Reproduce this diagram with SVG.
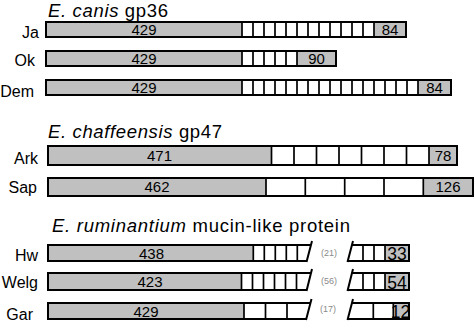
<svg xmlns="http://www.w3.org/2000/svg" width="475" height="323" viewBox="0 0 475 323">
<style>
text{font-family:"Liberation Sans",Arial,sans-serif;fill:#000}
.t{font-size:18.5px}
.i{font-style:italic}
.lb{font-size:16px;text-anchor:end}
.n{font-size:15px;text-anchor:middle}
.nb{font-size:17.5px;text-anchor:middle}
.sm{font-size:9px;text-anchor:middle;fill:#8a8a8a}
.g{fill:#c0c0c0;stroke:none}
.d{fill:none;stroke:#000;stroke-width:1.7}
.o{fill:none;stroke:#000;stroke-width:2}
.s{fill:none;stroke:#000;stroke-width:2}
</style>
<rect width="475" height="323" fill="#fff"/>
<g id="titles">
<text class="t" x="48" y="17" textLength="120"><tspan class="i">E. canis</tspan> gp36</text>
<text class="t" x="48" y="138" textLength="174"><tspan class="i">E. chaffeensis</tspan> gp47</text>
<text class="t" x="52" y="232" textLength="298"><tspan class="i">E. ruminantium</tspan> mucin-like protein</text>
</g>
<g id="ja">
<rect class="g" x="46" y="22" width="196" height="15"/>
<rect class="g" x="374" y="22" width="32" height="15"/>
<path class="d" d="M242,22v15M253,22v15M264,22v15M275,22v15M286,22v15M297,22v15M308,22v15M319,22v15M330,22v15M341,22v15M352,22v15M363,22v15M374,22v15"/>
<rect class="o" x="46" y="22" width="360" height="15"/>
<text class="lb" x="39" y="38">Ja</text>
<text class="n" x="144" y="35">429</text>
<text class="n" x="390" y="35">84</text>
</g>
<g id="ok">
<rect class="g" x="46" y="51" width="196" height="15"/>
<rect class="g" x="297" y="51" width="39" height="15"/>
<path class="d" d="M242,51v15M253,51v15M264,51v15M275,51v15M286,51v15M297,51v15"/>
<rect class="o" x="46" y="51" width="290" height="15"/>
<text class="lb" x="35" y="66">Ok</text>
<text class="n" x="144" y="64">429</text>
<text class="n" x="316.5" y="64">90</text>
</g>
<g id="dem">
<rect class="g" x="46" y="80" width="196" height="15"/>
<rect class="g" x="418" y="80" width="33" height="15"/>
<path class="d" d="M242,80v15M253,80v15M264,80v15M275,80v15M286,80v15M297,80v15M308,80v15M319,80v15M330,80v15M341,80v15M352,80v15M363,80v15M374,80v15M385,80v15M396,80v15M407,80v15M418,80v15"/>
<rect class="o" x="46" y="80" width="405" height="15"/>
<text class="lb" x="34" y="97">Dem</text>
<text class="n" x="144" y="93">429</text>
<text class="n" x="434.5" y="93">84</text>
</g>
<g id="ark">
<rect class="g" x="48" y="146" width="223.5" height="19"/>
<rect class="g" x="429" y="146" width="28" height="19"/>
<path class="d" d="M271.5,146v19M294,146v19M316.5,146v19M339,146v19M361.5,146v19M384,146v19M406.5,146v19M429,146v19"/>
<rect class="o" x="48" y="146" width="409" height="19"/>
<text class="lb" x="38" y="164">Ark</text>
<text class="n" x="159.5" y="161">471</text>
<text class="n" x="443" y="161">78</text>
</g>
<g id="sap">
<rect class="g" x="48" y="178" width="218" height="18"/>
<rect class="g" x="423.3" y="178" width="49.7" height="18"/>
<path class="d" d="M266,178v18M305.3,178v18M344.7,178v18M384,178v18M423.3,178v18"/>
<rect class="o" x="48" y="178" width="425" height="18"/>
<text class="lb" x="37" y="193">Sap</text>
<text class="n" x="157" y="192">462</text>
<text class="n" x="448" y="192">126</text>
</g>
<g id="hw">
<rect class="g" x="48" y="245" width="205.3" height="16"/>
<rect class="g" x="385" y="245" width="24" height="16"/>
<path class="d" d="M253.3,245v16M264.3,245v16M275.3,245v16M286.3,245v16M297.3,245v16M363,245v16M374,245v16M385,245v16"/>
<path class="o" d="M310.95,245H48V261H306.76M351.95,245H409V261H347.76"/>
<path class="s" d="M312,241L306.5,262M353,241L347.5,262"/>
<text class="lb" x="38" y="261">Hw</text>
<text class="n" x="151.5" y="258.5">438</text>
<text class="nb" x="397" y="259.5">33</text>
<text class="sm" x="329" y="256">(21)</text>
</g>
<g id="welg">
<rect class="g" x="48" y="273" width="193.5" height="17"/>
<rect class="g" x="385" y="273" width="24" height="17"/>
<path class="d" d="M241.5,273v17M252.5,273v17M263.5,273v17M274.5,273v17M285.5,273v17M296.5,273v17M363,273v17M374,273v17M385,273v17"/>
<path class="o" d="M311,273H48V290H306.75M352,273H409V290H347.75"/>
<path class="s" d="M312,269L306.5,291M353,269L347.5,291"/>
<text class="lb" x="38" y="288">Welg</text>
<text class="n" x="150" y="287">423</text>
<text class="nb" x="397" y="288.5">54</text>
<text class="sm" x="329" y="284">(56)</text>
</g>
<g id="gar">
<rect class="g" x="48" y="303" width="196" height="16"/>
<rect class="g" x="393.3" y="303" width="15.7" height="16"/>
<path class="d" d="M244,303v16M265.5,303v16M287,303v16M373.3,303v16M393.3,303v16"/>
<path class="o" d="M310.45,303H48V319H306.26M351.95,303H409V319H347.76"/>
<path class="s" d="M311.5,299L306,320M353,299L347.5,320"/>
<text class="lb" x="33" y="320">Gar</text>
<text class="n" x="146" y="316.5">429</text>
<text class="nb" x="400.5" y="317.5">12</text>
<text class="sm" x="328" y="312">(17)</text>
</g>
</svg>
